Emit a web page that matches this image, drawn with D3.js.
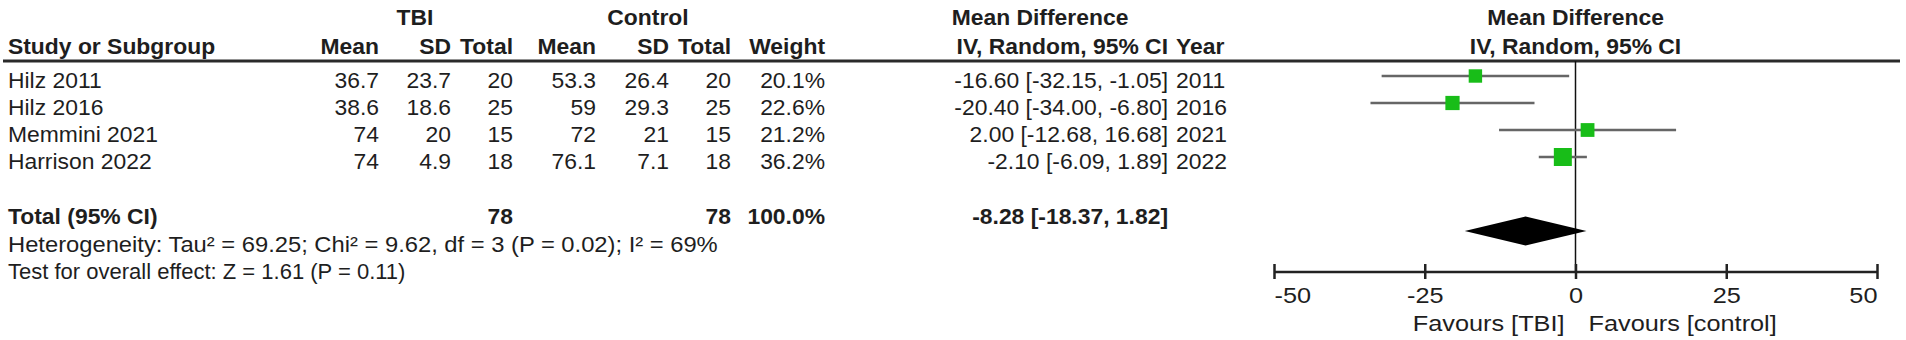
<!DOCTYPE html>
<html>
<head>
<meta charset="utf-8">
<script src="https://cdn.jsdelivr.net/npm/d3@7"></script>
<style>
  body { margin: 0; background: #fff; }
  svg { display: block; }
  text { font-family: "Liberation Sans", Arial, sans-serif; font-size: 22px; fill: #1e1e1e; }
  .b { font-weight: bold; }
</style>
</head>
<body>
<div id="chart"></div>
<script>
// study rows
const studies = ['Hilz 2011', 'Hilz 2016', 'Memmini 2021', 'Harrison 2022'];
const tbiMean = [36.7, 38.6, 74, 74];
const tbiSD = [23.7, 18.6, 20, 4.9];
const tbiTotal = [20, 25, 15, 18];
const ctlMean = [53.3, 59, 72, 76.1];
const ctlSD = [26.4, 29.3, 21, 7.1];
const ctlTotal = [20, 25, 15, 18];
const weights = [20.1, 22.6, 21.2, 36.2];
const meanDiff = [-16.60, -20.40, 2.00, -2.10];
const ciLow = [-32.15, -34.00, -12.68, -6.09];
const ciHigh = [-1.05, -6.80, 16.68, 1.89];
const years = [2011, 2016, 2021, 2022];

// pooled result
const totalTbi = 78;
const totalCtl = 78;
const totalWeight = 100.0;
const totalMD = -8.28;
const totalLow = -18.37;
const totalHigh = 1.82;

const heterogeneity = 'Heterogeneity: Tau² = 69.25; Chi² = 9.62, df = 3 (P = 0.02); I² = 69%';
const overallTest = 'Test for overall effect: Z = 1.61 (P = 0.11)';
const axisTicks = [-50, -25, 0, 25, 50];
const favoursLeft = 'Favours [TBI]';
const favoursRight = 'Favours [control]';

const width = 1906, height = 340;
const SX = 1.04; // source text is set slightly wider than Arial

const svg = d3.select('#chart').append('svg')
    .attr('width', width)
    .attr('height', height);

// helper: slightly widened text
function label(x, y, s, anchor, bold, sx) {
  return svg.append('text')
      .attr('class', bold ? 'b' : null)
      .attr('transform', `translate(${x},${y}) scale(${sx || SX},1)`)
      .attr('text-anchor', anchor || 'start')
      .text(s);
}

// hyphen minus like the source, not the unicode minus
const fmt2 = v => v.toFixed(2);

// column right edges (table part)
const col = {
  study: 8, tMean: 379, tSD: 451, tTot: 513,
  cMean: 596, cSD: 669, cTot: 731, weight: 825, ci: 1168, year: 1176
};

const rowY = d3.scalePoint()
    .domain(studies)
    .range([76, 157]);
const totalY = 214;
const diamondY = 231;
const headLineY = 61;
const axisY = 272;

const x = d3.scaleLinear()
    .domain([axisTicks[0], axisTicks[axisTicks.length - 1]])
    .range([1274, 1877]);

const boxSize = d3.scaleSqrt()
    .domain([0, d3.max(weights)])
    .range([0, 18]);

// headers
label(415, 25, 'TBI', 'middle', true);
label(648, 25, 'Control', 'middle', true);
label(1040, 25, 'Mean Difference', 'middle', true);
label(x(0), 25, 'Mean Difference', 'middle', true);

label(col.study, 54, 'Study or Subgroup', 'start', true);
[['Mean', col.tMean], ['SD', col.tSD], ['Total', col.tTot],
 ['Mean', col.cMean], ['SD', col.cSD], ['Total', col.cTot],
 ['Weight', col.weight], ['IV, Random, 95% CI', col.ci]]
  .forEach(([s, cx]) => label(cx, 54, s, 'end', true));
label(col.year, 54, 'Year', 'start', true);
label(x(0), 54, 'IV, Random, 95% CI', 'middle', true);

svg.append('line')
    .attr('x1', 3).attr('x2', 1900)
    .attr('y1', headLineY).attr('y2', headLineY)
    .attr('stroke', '#2a2a2a')
    .attr('stroke-width', 3);

// study rows text
studies.forEach((s, i) => {
  const y = rowY(s) + 12;
  label(col.study, y, s);
  label(col.tMean, y, String(tbiMean[i]), 'end');
  label(col.tSD, y, String(tbiSD[i]), 'end');
  label(col.tTot, y, String(tbiTotal[i]), 'end');
  label(col.cMean, y, String(ctlMean[i]), 'end');
  label(col.cSD, y, String(ctlSD[i]), 'end');
  label(col.cTot, y, String(ctlTotal[i]), 'end');
  label(col.weight, y, weights[i].toFixed(1) + '%', 'end');
  label(col.ci, y, `${fmt2(meanDiff[i])} [${fmt2(ciLow[i])}, ${fmt2(ciHigh[i])}]`, 'end');
  label(col.year, y, String(years[i]));
});

// total row
label(col.study, totalY + 10, 'Total (95% CI)', 'start', true);
label(col.tTot, totalY + 10, String(totalTbi), 'end', true);
label(col.cTot, totalY + 10, String(totalCtl), 'end', true);
label(col.weight, totalY + 10, totalWeight.toFixed(1) + '%', 'end', true);
label(col.ci, totalY + 10, `${fmt2(totalMD)} [${fmt2(totalLow)}, ${fmt2(totalHigh)}]`, 'end', true);

label(col.study, 252, heterogeneity, 'start', false, 1.08);
label(col.study, 279, overallTest, 'start', false, 1.0);

// forest plot
const plot = svg.append('g');

plot.append('line')
    .attr('x1', x(0)).attr('x2', x(0))
    .attr('y1', headLineY).attr('y2', axisY)
    .attr('stroke', '#111')
    .attr('stroke-width', 1.5);

plot.selectAll('.ci')
    .data(studies)
  .join('line')
    .attr('class', 'ci')
    .attr('x1', (d, i) => x(ciLow[i]))
    .attr('x2', (d, i) => x(ciHigh[i]))
    .attr('y1', d => rowY(d))
    .attr('y2', d => rowY(d))
    .attr('stroke', '#666')
    .attr('stroke-width', 2.5);

plot.selectAll('.box')
    .data(studies)
  .join('rect')
    .attr('class', 'box')
    .attr('x', (d, i) => x(meanDiff[i]) - boxSize(weights[i]) / 2)
    .attr('y', (d, i) => rowY(d) - boxSize(weights[i]) / 2)
    .attr('width', (d, i) => boxSize(weights[i]))
    .attr('height', (d, i) => boxSize(weights[i]))
    .attr('fill', '#18bd18');

const dh = 14.5;
plot.append('path')
    .attr('d', `M${x(totalLow)},${diamondY} L${x(totalMD)},${diamondY - dh} L${x(totalHigh)},${diamondY} L${x(totalMD)},${diamondY + dh} Z`)
    .attr('fill', '#000');

// axis
const axis = d3.axisBottom(x)
    .tickValues(axisTicks)
    .tickSize(7)
    .tickFormat(d => String(d));

const axisG = plot.append('g')
    .attr('transform', `translate(0,${axisY})`)
    .call(axis);

axisG.attr('font-family', null).attr('font-size', null);
axisG.select('.domain')
    .attr('d', `M${x.range()[0]},0H${x.range()[1]}`)
    .attr('stroke', '#222')
    .attr('stroke-width', 2.5);
axisG.selectAll('.tick line')
    .attr('y1', -8)
    .attr('y2', 7)
    .attr('stroke', '#222')
    .attr('stroke-width', 2.5);
axisG.selectAll('.tick text')
    .attr('fill', null)
    .attr('y', null)
    .attr('dy', null)
    .attr('transform', `translate(0,31) scale(1.15,1)`)
    .attr('text-anchor', (d, i) => i === 0 ? 'start' : i === axisTicks.length - 1 ? 'end' : 'middle');

label(x(0) - 11, 331, favoursLeft, 'end', false, 1.15);
label(x(0) + 13, 331, favoursRight, 'start', false, 1.15);
</script>
</body>
</html>
